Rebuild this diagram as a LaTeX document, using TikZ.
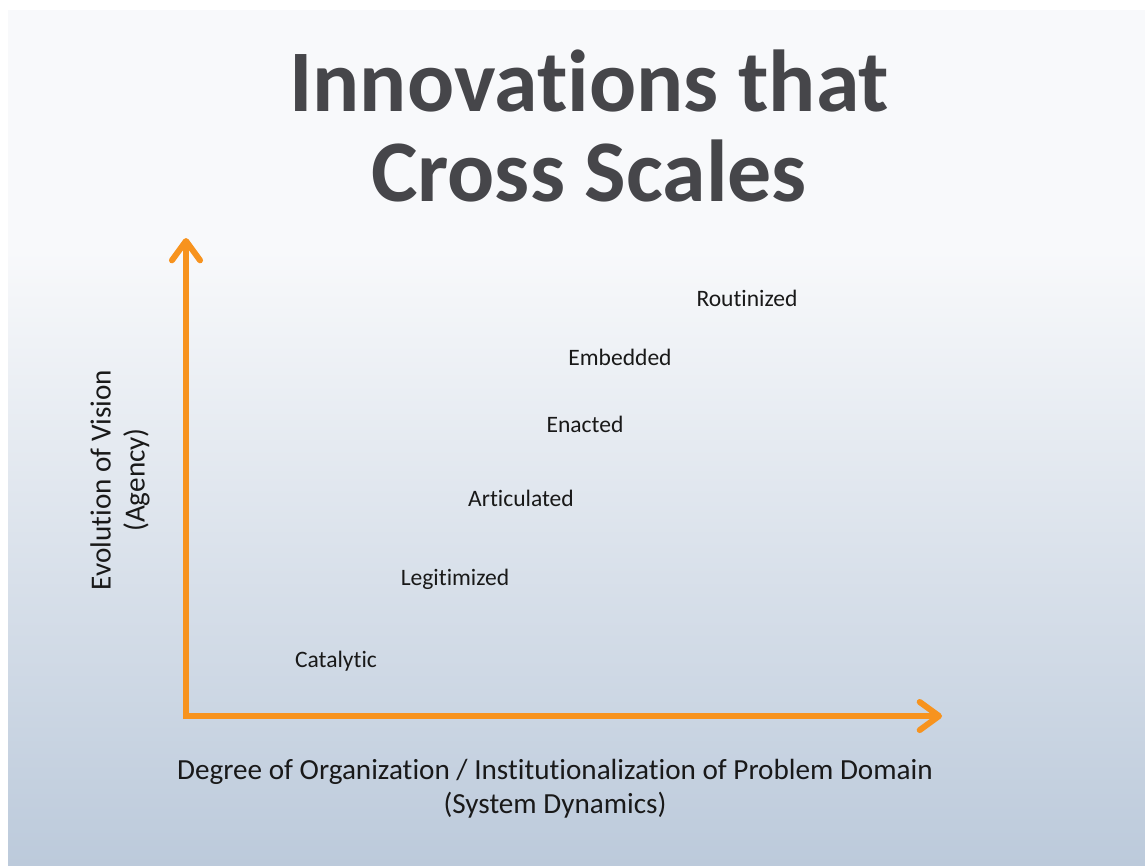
\documentclass[tikz,border=0pt]{standalone}
\usepackage{fontspec}
\setmainfont[Ligatures={NoCommon,NoContextual}]{Carlito}
\usetikzlibrary{arrows.meta}
\definecolor{axisorange}{HTML}{F7931E}
\definecolor{titlegray}{HTML}{46464A}
\definecolor{bgtop}{HTML}{F8F9FB}
\definecolor{bgbot}{HTML}{BCCADB}
\tikzset{
  heading/.style={font=\fontsize{50}{51}\bfseries\selectfont, text=titlegray, align=center},
  stage/.style={font=\fontsize{13.4}{16}\selectfont, text=black!90},
  axislab/.style={font=\fontsize{16.6}{19.4}\selectfont, text=black!90, align=center},
  axisline/.style={draw=axisorange, line width=3.4pt, shorten <=-1.7pt,
    -{Straight Barb[length=11pt, width=16pt, round]}},
}

\begin{document}
\begin{tikzpicture}[x=0.2mm, y=-0.2mm]

% page and slide background
\useasboundingbox (0, 0) rectangle (1145, 865);
\fill[white] (0, 0) rectangle (1145, 865);
\fill[bgtop] (8, 10) rectangle (1145, 250);
\shade[top color=bgtop, bottom color=bgbot] (8, 250) rectangle (1145, 865);

% title
\node[heading] (title) at (589, 126) {Innovations that\\Cross Scales};

% axes
\coordinate (origin) at (186, 716);
\coordinate (ytip) at (186, 238);
\coordinate (xtip) at (942, 716);
\draw[axisline] (origin) -- (ytip);
\draw[axisline] (origin) -- (xtip);

\node[axislab, rotate=90] (ylab) at (120, 480) {Evolution of Vision\\(Agency)};
\node[axislab] (xlab) at (555, 789)
  {Degree of Organization / Institutionalization of Problem Domain\\(System Dynamics)};

% stages along the diagonal
\node[stage] (catalytic) at (336, 661) {Catalytic};
\node[stage] (legit) at (455, 579) {Legitimized};
\node[stage] (artic) at (521, 498) {Articulated};
\node[stage] (enacted) at (585, 424) {Enacted};
\node[stage] (embedded) at (620, 357) {Embedded};
\node[stage] (routine) at (747, 298) {Routinized};

\end{tikzpicture}
\end{document}
